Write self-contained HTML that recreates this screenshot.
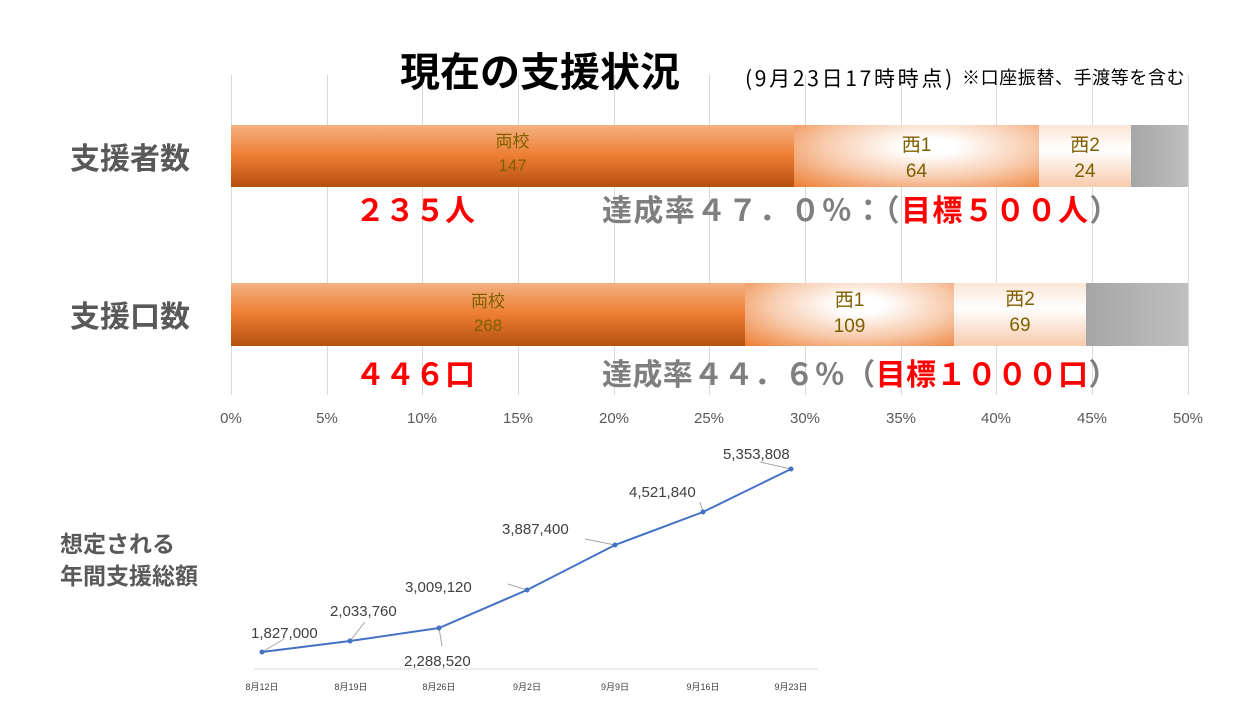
<!DOCTYPE html>
<html><head><meta charset="utf-8"><style>
body{margin:0;width:1250px;height:703px;background:#fff;overflow:hidden;position:relative;font-family:"Liberation Sans","Noto Sans CJK JP",sans-serif}
.a{position:absolute;white-space:nowrap}
.g{position:absolute;top:75px;height:320px;width:1px;background:#d9d9d9}
.seg{position:absolute;text-align:center;color:#7f6000;font-size:17px;line-height:24px}
.o{background:linear-gradient(#f4b183,#ed7d31 50%,#b4500f)}
.r{background:radial-gradient(ellipse at 55% 35%,#fff 15%,#f8cbad 55%,#ed7d31 100%)}
.p{background:linear-gradient(#fbe5d6,#fff 40%,#f8cbad)}
.gr{background:linear-gradient(90deg,#a6a6a6,#bfbfbf)}
.tick{position:absolute;top:410px;font-size:15px;color:#595959;width:60px;text-align:center}
.big{font-weight:bold;font-size:30px;font-family:"Noto Sans CJK JP",sans-serif;line-height:40px}
</style></head><body>
<div class="g" style="left:231px"></div><div class="g" style="left:327px"></div><div class="g" style="left:422px"></div><div class="g" style="left:518px"></div><div class="g" style="left:614px"></div><div class="g" style="left:709px"></div><div class="g" style="left:805px"></div><div class="g" style="left:901px"></div><div class="g" style="left:996px"></div><div class="g" style="left:1092px"></div><div class="g" style="left:1188px"></div>
<div class="a" style="left:400px;top:40px;font-size:40px;font-weight:bold;color:#000">現在の支援状況</div>
<div class="a" style="left:745px;top:63px;font-size:21px;color:#000;font-family:'Noto Sans CJK JP',sans-serif;line-height:30px;letter-spacing:2.7px">(9月23日17時時点)</div>
<div class="a" style="left:962px;top:64px;font-size:18px;color:#000;font-family:'Noto Sans CJK JP',sans-serif;line-height:26px;letter-spacing:0.6px">※口座振替、手渡等を含む</div>
<div class="a" style="left:70px;top:134px;font-size:30px;font-weight:bold;color:#595959">支援者数</div>
<div class="a" style="left:70px;top:292px;font-size:30px;font-weight:bold;color:#595959">支援口数</div>

<div class="seg o" style="left:231px;top:125px;width:563px;height:62px"><div style="margin-top:5px">両校<br>147</div></div>
<div class="seg r" style="left:794px;top:125px;width:245px;height:62px"><div style="margin-top:8px;font-size:19px;line-height:26px">西1<br>64</div></div>
<div class="seg p" style="left:1039px;top:125px;width:92px;height:62px"><div style="margin-top:8px;font-size:19px;line-height:26px">西2<br>24</div></div>
<div class="seg gr" style="left:1131px;top:125px;width:57px;height:62px"></div>

<div class="seg o" style="left:231px;top:283px;width:514px;height:63px"><div style="margin-top:7px">両校<br>268</div></div>
<div class="seg r" style="left:745px;top:283px;width:209px;height:63px"><div style="margin-top:5px;font-size:19px;line-height:26px">西1<br>109</div></div>
<div class="seg p" style="left:954px;top:283px;width:132px;height:63px"><div style="margin-top:4px;font-size:19px;line-height:26px">西2<br>69</div></div>
<div class="seg gr" style="left:1086px;top:283px;width:102px;height:63px"></div>

<div class="a big" style="left:355px;top:188px;color:#f00">２３５人</div>
<div class="a big" style="left:602px;top:188px;color:#7f7f7f;letter-spacing:1.4px">達成率４７．０％：（<span style="color:#f00">目標５００人</span>）</div>
<div class="a big" style="left:355px;top:352px;color:#f00">４４６口</div>
<div class="a big" style="left:602px;top:352px;color:#7f7f7f;letter-spacing:0.4px">達成率４４．６％（<span style="color:#f00">目標１０００口</span>）</div>

<div class="tick" style="left:201px">0%</div><div class="tick" style="left:297px">5%</div><div class="tick" style="left:392px">10%</div><div class="tick" style="left:488px">15%</div><div class="tick" style="left:584px">20%</div><div class="tick" style="left:679px">25%</div><div class="tick" style="left:775px">30%</div><div class="tick" style="left:871px">35%</div><div class="tick" style="left:966px">40%</div><div class="tick" style="left:1062px">45%</div><div class="tick" style="left:1158px">50%</div>

<div class="a" style="left:60px;top:528px;font-size:23px;font-weight:bold;color:#595959;line-height:32px">想定される<br>年間支援総額</div>

<svg class="a" style="left:0;top:0" width="1250" height="703">
<line x1="254" y1="669" x2="818" y2="669" stroke="#d9d9d9"/>
<g stroke="#a6a6a6" fill="none">
<line x1="262" y1="652" x2="284" y2="639"/><line x1="350" y1="641" x2="365" y2="622"/><line x1="439" y1="628" x2="442" y2="646"/><line x1="527" y1="590" x2="508" y2="584"/><line x1="615" y1="545" x2="585" y2="539"/><line x1="703" y1="512" x2="700" y2="502"/><line x1="791" y1="469" x2="760" y2="462"/>
</g>
<polyline points="262,652 350,641 439,628 527,590 615,545 703,512 791,469" fill="none" stroke="#4472c4" stroke-width="2"/>
<g fill="#4472c4"><circle cx="262" cy="652" r="2.5"/><circle cx="350" cy="641" r="2.5"/><circle cx="439" cy="628" r="2.5"/><circle cx="527" cy="590" r="2.5"/><circle cx="615" cy="545" r="2.5"/><circle cx="703" cy="512" r="2.5"/><circle cx="791" cy="469" r="2.5"/></g>
<g font-family="Liberation Sans,sans-serif" font-size="15" fill="#404040">
<text x="251" y="638">1,827,000</text><text x="330" y="616">2,033,760</text><text x="404" y="666">2,288,520</text><text x="405" y="592">3,009,120</text><text x="502" y="534">3,887,400</text><text x="629" y="497">4,521,840</text><text x="723" y="459">5,353,808</text>
</g>
<g font-family="Liberation Sans,Noto Sans CJK JP,sans-serif" font-size="9" fill="#404040" text-anchor="middle">
<text x="262" y="690">8月12日</text><text x="351" y="690">8月19日</text><text x="439" y="690">8月26日</text><text x="527" y="690">9月2日</text><text x="615" y="690">9月9日</text><text x="703" y="690">9月16日</text><text x="791" y="690">9月23日</text>
</g>
</svg>
</body></html>
